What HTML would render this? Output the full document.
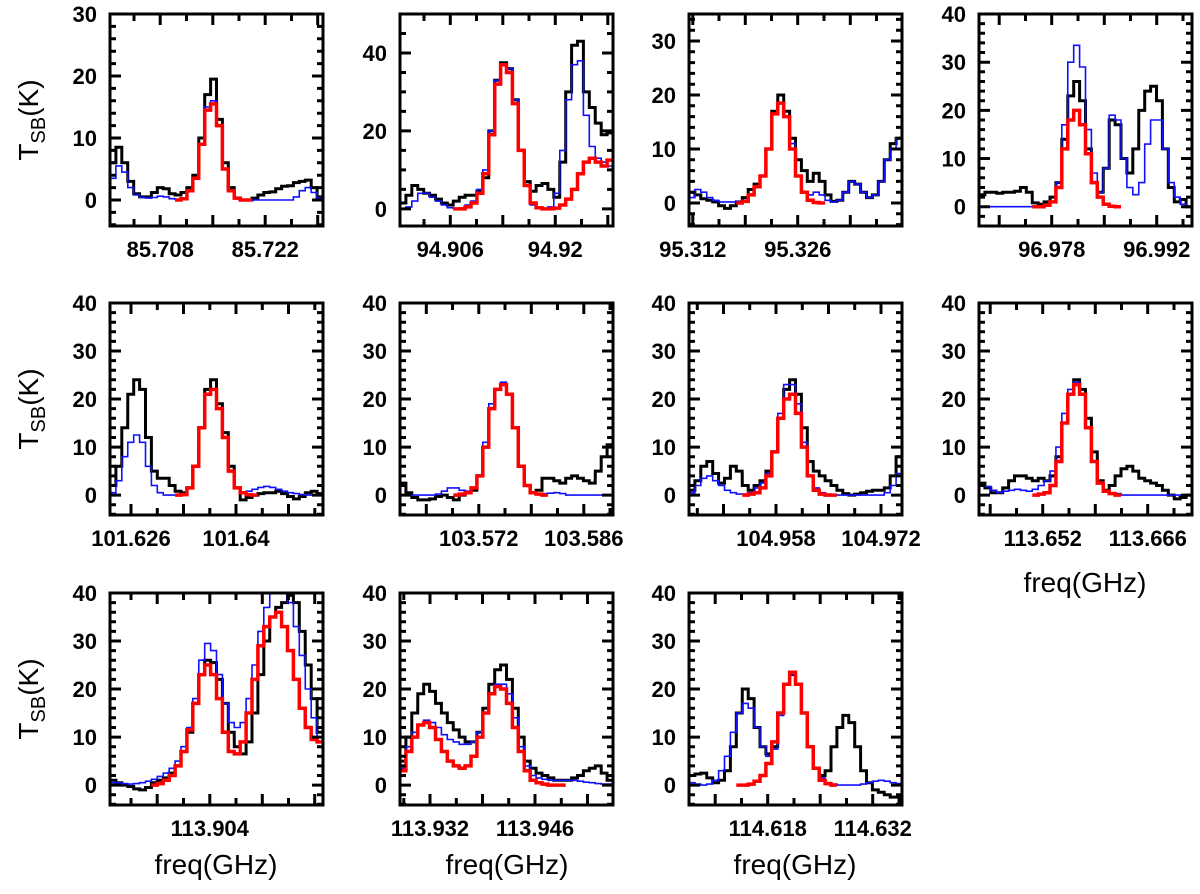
<!DOCTYPE html>
<html><head><meta charset="utf-8">
<style>
html,body{margin:0;padding:0;background:#fff;}
svg{display:block;font-family:"Liberation Sans",sans-serif;}
.tl{font-size:22px;font-weight:bold;fill:#000;}
.ttl{font-size:28px;fill:#000;}
</style></head>
<body>
<svg id="fig" width="1200" height="894" viewBox="0 0 1200 894" xmlns="http://www.w3.org/2000/svg"></svg>
<script>
// ---- data (K vs channel) ----
const p1Obs=[6,8.5,6,3,1,0.5,0.5,1.2,2,1.8,1,0.8,1.2,2,4,10,17,19.5,13,6,2,0.3,0,0,0.3,0.8,1.2,1.3,1.8,2.2,2.3,2.8,3,3.2,2,0.5];
const p1Blue=[3.5,5.5,4.5,2,0.8,0.4,0.3,0.4,0.6,0.5,0.2,0.1,0.2,1.5,3.5,9,15,16,12,5,1.5,0.3,0,0,0,0,0,0,0,0,0,0.5,1.5,2,1.2,0.3];
const p1Red=[null,null,null,null,null,null,null,null,null,null,null,0,0.2,1.5,3.5,9,14.5,15.5,12,5,1.5,0.3,0,0,null,null,null,null,null,null,null,null,null,null,null,null];
const p2Obs=[1.5,3.5,6,5,4,3.5,2.5,1.5,1,2,3,3.5,3.5,4.5,8,20,33,37.5,36,28,15,7,4.5,6,6.5,5,3,12,30,42,43,30,26,22,19,19.5];
const p2Blue=[0,0.5,2,4,4,3,2,1,0.3,0.1,0.2,1,2,5,10,20,33,37,36,28,15,6,1,0.2,0.1,0.5,4,15,28,37,38,24,16,13,12,11];
const p2Red=[null,null,null,null,null,null,null,null,null,0,0,0.5,1.5,4,9,19,32,37,35,27,15,6,1.5,0.3,0,0,0.2,1,2.5,5,9,12,13,12,11,12.5];
const p3Obs=[2,1.5,0.8,0.5,0.2,-0.5,-1,-0.5,0.2,1,2.5,3.5,5,10,17,20,17,12,8,6,4,5.5,4,1.5,0.3,0.5,2,4,3.5,2,1,1.5,4,8,11,12];
const p3Blue=[1,2.5,2,1,0.5,0.2,0.2,0.2,0.3,0.5,1.5,3,5,10,16.5,18.5,16,11,5,2,1.5,2,1.5,0.5,0.2,0.5,2,4,3.5,2,1,1.5,4,8,10,12];
const p3Red=[null,null,null,null,null,null,null,null,0,0.3,1.5,3,5,10,16.5,18.5,16,10,5,2,0.5,0.1,0,null,null,null,null,null,null,null,null,null,null,null,null,null];
const p4Obs=[2.5,3,3,2.8,3,3,3.2,4,3,0.8,0.5,1,2,5,14,23,26,22,12,5,3,8,18,17,10,7,12,20,24,25,22,12,4,1,1.5,0];
const p4Blue=[0,0,0,0,0,0,0,0,0,0,0,0.3,1,5,17,30,33.5,29,16,7,3,8,19,18,10,4,2.5,5,13,18,18,12,5,2,0.5,0];
const p4Red=[null,null,null,null,null,null,null,null,null,0,0,0.3,1,4,12,18,20,17,11,5,2,0.5,0.1,0,null,null,null,null,null,null,null,null,null,null,null,null];
const p5Obs=[2,6,14,21,24,22,12,5,3.5,3.5,2,0.8,0.5,1.5,6,14,22,24,19,13,6,1.5,-1,-0.5,0,0.3,0.5,0.5,0.8,0.3,-0.3,-0.8,-0.3,0.5,0.8,0.3];
const p5Blue=[0.5,3,8,11,12.5,11,6,2,0.5,0,0,0,0,1.5,6,14,21,22,18,12,5,1.5,0.5,0.8,1.2,1.6,1.8,1.6,1.2,0.8,0.5,0.3,0.1,0,0,0];
const p5Red=[null,null,null,null,null,null,null,null,null,null,null,0,0.1,1.5,6,14,21,22,18,12,5,1.5,0.5,0.1,0,null,null,null,null,null,null,null,null,null,null,null];
const p6Obs=[2.5,0.5,-0.5,-1,-1,-0.8,-0.3,0,-0.5,-1,0,0.5,1,4,10,18,22,23,21,14,6,2,0.5,1,3.5,3.5,3,2.5,3.5,4,3.5,3,2.5,5,8,10.5];
const p6Blue=[0,0,0,0,0,0,0.2,0.8,1.5,1.5,1,0.8,1.5,4,11,19,22,23.5,21,14,6,2,0.5,0.2,0.3,0.4,0.5,0.3,0,0,0,0,0,0,0,0];
const p6Red=[null,null,null,null,null,null,null,null,null,0,0.2,0.5,1.5,4,10,18,22,23,21,14,6,2,0.5,0.2,0,null,null,null,null,null,null,null,null,null,null,null];
const p7Obs=[1,3,6,7,4.5,2.5,3.5,6,5,2,1,2,3,5,9,16,22,24,21,14,7,5,4,3,2,1,0.3,0,0.2,0.5,0.8,1,1,1.5,4,8];
const p7Blue=[0.5,2,3.5,4,3,2,1,0.5,0.2,0.2,0.5,1.5,2.5,4.5,9,17,23,23,19,11,4,1.5,0.5,0.2,0,0,0,0,0,0,0,0,0,0.5,2,4.5];
const p7Red=[null,null,null,null,null,null,null,null,null,0,0.2,0.5,1.5,4,9,16,20,21,17,10,4,1,0.2,0,0,null,null,null,null,null,null,null,null,null,null,null];
const p8Obs=[2.5,1.5,0.5,0.5,1.5,3,4,4,3.5,3,3.5,3,4,8,15,21,24,22,16,9,3,1,2,4,5.5,6,5,3.5,3,2.5,2,1,0,-0.8,-0.5,0];
const p8Blue=[2,1.8,1,0.5,0.8,1,1.2,1,0.8,1.2,2,3,5,10,17,22,23.5,21,14,7,2.5,1,0.5,0.3,0,0,0,0,0,0,0,0,0,0,0,0];
const p8Red=[null,null,null,null,null,null,null,null,null,0,0.2,0.5,2,7,15,21,23,21,14,7,2.5,0.8,0.3,0,null,null,null,null,null,null,null,null,null,null,null,null];
const p9Obs=[1,0.5,0,-0.3,-0.8,-1,-0.5,0.5,1,1.5,2.5,4,7,11,17,23,26,25.5,22,17,11,8,6.5,9,15,23,30,35,37,38,39.5,38,32,25,18,11];
const p9Blue=[0.5,0.5,0.3,0.2,0.3,0.5,0.8,1.2,1.8,2.5,3.5,5,8,12,18,26,29.5,28,23,17,13,12,13,18,25,32,37,40,41,40,38,33,27,20,14,10];
const p9Red=[null,null,null,null,null,null,null,0,0.3,1,2,4,7,11.5,17,23,25,23,18,11,7,6.5,9,15,22,29,33,35,36,33,28,22,16,12,9.5,9];
const p10Obs=[5,10,15,19,21,19.5,17,15,13,11.5,10,9,9,11,16,21,24,25,22,16,10,5,3.5,2.5,2,1.5,1,1,1,1.5,2,3,3.5,4,2.5,1];
const p10Blue=[3.5,8,11,12.5,13.5,13,12,10.5,9.5,9,8.5,8.5,9,11,15,19,21,21,19,14,8,4,2,1.5,1.2,1,1,1,1,1,0.8,0.6,0.5,0.3,0.2,0.2];
const p10Red=[3,7,10,12.5,13,12,9.5,7,5,4,3.5,4,6,10,15,19,20.5,20,17,12,7,3,1,0.5,0.2,0,0,0,null,null,null,null,null,null,null,null];
const p11Obs=[2,2.3,2.5,1.5,0.5,1,3,8,15,20,18,12,8,6.5,8,15,21,23,21,15,8,3.5,2,3,8,12,14.5,13,8,3,0.5,-1,-1.5,-2,-2.5,-2.5];
const p11Blue=[0.5,0.2,0,0.2,1,3,6,11,15,17,16,12,8,6,7.5,14.5,21,23,21,15,8,3.5,1.5,0.5,0.2,0,0,0,0,0.2,0.5,0.8,1,0.8,0.5,0.3];
const p11Red=[null,null,null,null,null,null,null,null,0,0,0.2,0.8,2,4.5,9,15,21,23.5,21,15,8,3.5,1,0.3,0,null,null,null,null,null,null,null,null,null,null,null];
// axis config
const p1XLabels=["85.708","85.722"], p2XLabels=["94.906","94.92"], p3XLabels=["95.312","95.326"], p4XLabels=["96.978","96.992"];
const p5XLabels=["101.626","101.64"], p6XLabels=["103.572","103.586"], p7XLabels=["104.958","104.972"], p8XLabels=["113.652","113.666"];
const p9XLabels=["113.904"], p10XLabels=["113.932","113.946"], p11XLabels=["114.618","114.632"];
const p1YLabels=[0,10,20,30], p2YLabels=[0,20,40], p3YLabels=[0,10,20,30], p4YLabels=[0,10,20,30,40], rowYLabels=[0,10,20,30,40];

const SPAN=0.0284, NCH=36, W=213, H=212;
const panels=[
 {id:1,x:110,y:14,fmin:85.7013,ymin:-4.2,ymax:30,maj:10,min:2,obs:p1Obs,blue:p1Blue,red:p1Red,xl:p1XLabels,yl:p1YLabels},
 {id:2,x:400,y:14,fmin:94.8993,ymin:-4.4,ymax:50,maj:20,min:5,obs:p2Obs,blue:p2Blue,red:p2Red,xl:p2XLabels,yl:p2YLabels},
 {id:3,x:689,y:14,fmin:95.3115,ymin:-4.26,ymax:35,maj:10,min:2,obs:p3Obs,blue:p3Blue,red:p3Red,xl:p3XLabels,yl:p3YLabels},
 {id:4,x:979,y:14,fmin:96.9683,ymin:-4,ymax:40,maj:10,min:2,obs:p4Obs,blue:p4Blue,red:p4Red,xl:p4XLabels,yl:p4YLabels},
 {id:5,x:110,y:303,fmin:101.6232,ymin:-4.15,ymax:40,maj:10,min:2,obs:p5Obs,blue:p5Blue,red:p5Red,xl:p5XLabels,yl:rowYLabels},
 {id:6,x:400,y:303,fmin:103.5615,ymin:-4.15,ymax:40,maj:10,min:2,obs:p6Obs,blue:p6Blue,red:p6Red,xl:p6XLabels,yl:rowYLabels},
 {id:7,x:689,y:303,fmin:104.9464,ymin:-4.15,ymax:40,maj:10,min:2,obs:p7Obs,blue:p7Blue,red:p7Red,xl:p7XLabels,yl:rowYLabels},
 {id:8,x:979,y:303,fmin:113.6435,ymin:-4.15,ymax:40,maj:10,min:2,obs:p8Obs,blue:p8Blue,red:p8Red,xl:p8XLabels,yl:rowYLabels},
 {id:9,x:110,y:593,fmin:113.8907,ymin:-4.15,ymax:40,maj:10,min:2,obs:p9Obs,blue:p9Blue,red:p9Red,xl:p9XLabels,yl:rowYLabels},
 {id:10,x:400,y:593,fmin:113.928,ymin:-4.15,ymax:40,maj:10,min:2,obs:p10Obs,blue:p10Blue,red:p10Red,xl:p10XLabels,yl:rowYLabels},
 {id:11,x:689,y:593,fmin:114.6075,ymin:-4.15,ymax:40,maj:10,min:2,obs:p11Obs,blue:p11Blue,red:p11Red,xl:p11XLabels,yl:rowYLabels}
];
const NS="http://www.w3.org/2000/svg";
const svg=document.getElementById('fig');
function mk(tag,attrs,parent){const e=document.createElementNS(NS,tag);for(const k in attrs)e.setAttribute(k,attrs[k]);(parent||svg).appendChild(e);return e;}

panels.forEach(p=>{
  const g=mk('g',{});
  
  
  const sx=f=>p.x+(f-p.fmin)/SPAN*W;
  const sy=v=>p.y+H-(v-p.ymin)/(p.ymax-p.ymin)*H;
  const df=SPAN/NCH;
  const clip=mk('clipPath',{id:'c'+p.id},g);
  mk('rect',{x:p.x,y:p.y,width:W,height:H},clip);
  function stepPath(arr){
    let d='',on=false;
    arr.forEach((v,i)=>{
      if(v===null){on=false;return;}
      const f=p.fmin+(i+0.5)*df;
      const x0=sx(f-df/2),x1=sx(f+df/2),y=sy(v);
      d+=(on?'L':'M')+x0.toFixed(1)+','+y.toFixed(1)+'L'+x1.toFixed(1)+','+y.toFixed(1);
      on=true;
    });
    return d;
  }
  const so=mk('path',{d:stepPath(p.obs),fill:'none',stroke:'#000','stroke-width':3,'clip-path':'url(#c'+p.id+')'},g);
  
  
  const sb=mk('path',{d:stepPath(p.blue),fill:'none',stroke:'#1010ff','stroke-width':1.6,'clip-path':'url(#c'+p.id+')'},g);
  
  
  const sr=mk('path',{d:stepPath(p.red),fill:'none',stroke:'#ff0000','stroke-width':3.5,'clip-path':'url(#c'+p.id+')'},g);
  
  
  const fr=mk('rect',{x:p.x,y:p.y,width:W,height:H,fill:'none',stroke:'#000','stroke-width':3},g);
  
  
  let td='';
  for(let v=Math.ceil(p.ymin/p.min)*p.min;v<=p.ymax+1e-9;v+=p.min){
    const y=sy(v), L=(Math.abs(v/p.maj-Math.round(v/p.maj))<1e-6)?11:6;
    td+='M'+p.x+','+y.toFixed(1)+'h'+L+'M'+(p.x+W)+','+y.toFixed(1)+'h'+(-L);
  }
  const base=parseFloat(p.xl[0]), st=0.0035;
  for(let k=-10;k<=10;k++){
    const f=base+k*st, x=sx(f);
    if(x<p.x+1||x>p.x+W-1)continue;
    const L=(k%2===0)?11:7;
    td+='M'+x.toFixed(1)+','+(p.y+H)+'v'+(-L)+'M'+x.toFixed(1)+','+p.y+'v'+L;
  }
  const tk=mk('path',{d:td,stroke:'#000','stroke-width':3,fill:'none'},g);
  
  
  p.yl.forEach(v=>{
    const t=mk('text',{x:p.x-13,y:sy(v)+8,'text-anchor':'end',class:'tl'},g);
    t.textContent=String(v);
    
    
  });
  p.xl.forEach(s=>{
    const t=mk('text',{x:sx(parseFloat(s)),y:p.y+H+31,'text-anchor':'middle',class:'tl'},g);
    t.textContent=s;
    
    
  });
});
[120,409,699].forEach((cy,r)=>{
  const t=mk('text',{x:0,y:0,transform:'translate(38,'+cy+') rotate(-90)','text-anchor':'middle',class:'ttl','font-size':'29'});
  t.innerHTML='T<tspan font-size="20" dy="7">SB</tspan><tspan dy="-7">(K)</tspan>';
  
  
});
[[1085,592],[216,874],[507,874],[795,874]].forEach((c,i)=>{
  const t=mk('text',{x:c[0],y:c[1],'text-anchor':'middle',class:'ttl'});
  t.textContent='freq(GHz)';
  
  
});
</script>
</body></html>
